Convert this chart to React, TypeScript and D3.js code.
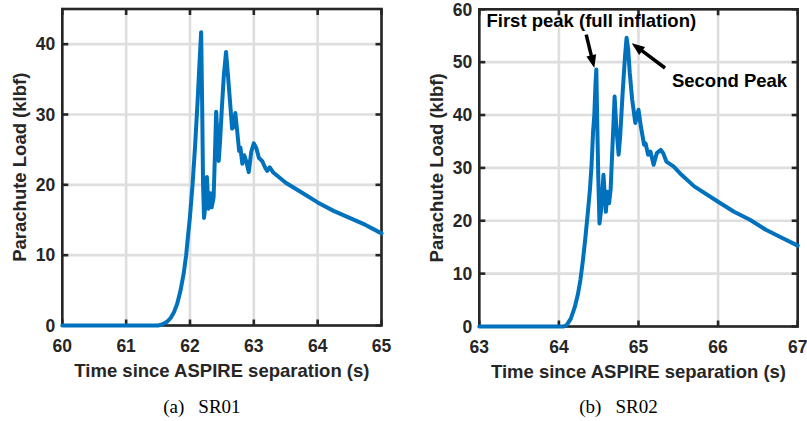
import React from "react";
import * as d3 from "d3";

// ---------- data ----------
const sr01Time = [60.0, 61.0, 61.5, 61.55, 61.6, 61.65, 61.7, 61.75, 61.8, 61.85, 61.9, 61.94, 61.97, 62.0, 62.04, 62.08, 62.12, 62.15, 62.175, 62.19, 62.205, 62.22, 62.24, 62.265, 62.29, 62.32, 62.34, 62.37, 62.39, 62.41, 62.43, 62.45, 62.47, 62.5, 62.53, 62.565, 62.6, 62.63, 62.66, 62.69, 62.71, 62.74, 62.77, 62.79, 62.82, 62.85, 62.88, 62.92, 62.96, 63.0, 63.04, 63.08, 63.13, 63.18, 63.21, 63.25, 63.3, 63.5, 63.75, 64.0, 64.25, 64.5, 64.75, 65.0];
const sr01Load = [0, 0, 0, 0.1, 0.3, 0.6, 1.1, 1.9, 3.1, 4.9, 7.3, 10, 12.8, 15.5, 20, 25.5, 32, 37.5, 41.7, 32, 20, 15.3, 17, 21.1, 16.6, 18.8, 16.8, 18.2, 24, 30.4, 27, 23.4, 26, 31, 35.5, 38.9, 35, 31.5, 28, 28.3, 30.2, 27.6, 24.8, 25.3, 23, 24.2, 23.4, 21.8, 24.7, 25.9, 25.2, 23.8, 23.4, 22.4, 22, 22.5, 21.8, 20.3, 18.9, 17.5, 16.3, 15.3, 14.3, 13.1];

const sr02Time = [63.0, 64.0, 64.06, 64.1, 64.15, 64.2, 64.24, 64.27, 64.3, 64.33, 64.36, 64.39, 64.41, 64.43, 64.445, 64.46, 64.47, 64.48, 64.495, 64.51, 64.53, 64.56, 64.59, 64.61, 64.63, 64.65, 64.67, 64.7, 64.72, 64.75, 64.77, 64.8, 64.83, 64.85, 64.87, 64.89, 64.92, 64.96, 65.0, 65.03, 65.07, 65.09, 65.12, 65.15, 65.19, 65.23, 65.28, 65.31, 65.35, 65.44, 65.52, 65.7, 66.0, 66.2, 66.4, 66.6, 66.8, 67.0];
const sr02Load = [0, 0, 0, 0.3, 1.5, 3.7, 6.2, 8.8, 12.3, 16.4, 21, 25.9, 30.5, 37, 40, 46, 48.6, 40, 28, 19.5, 22, 28.7, 21.7, 25.5, 23.3, 25.9, 33, 43.5, 38, 32.5, 36, 44, 51, 54.6, 52.5, 48, 43, 38.5, 41, 37.8, 34.4, 34.6, 32.5, 33.1, 30.6, 32.8, 33.4, 32.8, 31.2, 30.3, 29, 26.5, 23.6, 21.7, 20.2, 18.3, 16.8, 15.3];

const sr01XTicks = [60, 61, 62, 63, 64, 65];
const sr01YTicks = [0, 10, 20, 30, 40];
const sr02XTicks = [63, 64, 65, 66, 67];
const sr02YTicks = [0, 10, 20, 30, 40, 50, 60];

const xLabel = "Time since ASPIRE separation (s)";
const yLabel = "Parachute Load (klbf)";

// annotations for SR02 (data coordinates)
const annotationTexts = ["First peak (full inflation)", "Second Peak"];
const annotationTextPos = [[63.09, 56.7], [65.42, 45.3]];
const arrowTails = [[64.343, 55.2], [65.333, 48.9]];
const arrowTips = [[64.445, 48.9], [64.915, 53.6]];

// ---------- styles ----------
const SANS = "'Liberation Sans', Arial, Helvetica, sans-serif";
const SERIF = "'Liberation Serif', 'Times New Roman', Times, serif";
const TXT = "#262626";
const GRID = "#dedede";
const BLUE = "#0072BD";

type PanelProps = {
  left: number; right: number; top: number; bottom: number;
  xDomain: [number, number]; yDomain: [number, number];
  xTicks: number[]; yTicks: number[];
  t: number[]; v: number[];
  capLabel: string; capName: string;
  annotate?: boolean;
};

function Panel(p: PanelProps) {
  const x = d3.scaleLinear().domain(p.xDomain).range([p.left, p.right]);
  const y = d3.scaleLinear().domain(p.yDomain).range([p.bottom, p.top]);
  const pts: [number, number][] = p.t.map((tt, i) => [tt, p.v[i]]);
  const line = d3.line<[number, number]>().x(d => x(d[0])).y(d => y(d[1]));
  const tl = 6;
  const cx = (p.left + p.right) / 2;
  const cy = (p.top + p.bottom) / 2;
  return (
    <g>
      {p.xTicks.map(t => (
        <line key={"gx" + t} x1={x(t)} x2={x(t)} y1={p.top} y2={p.bottom} stroke={GRID} strokeWidth={2.6} />
      ))}
      {p.yTicks.map(t => (
        <line key={"gy" + t} x1={p.left} x2={p.right} y1={y(t)} y2={y(t)} stroke={GRID} strokeWidth={2.6} />
      ))}
      <rect x={p.left} y={p.top} width={p.right - p.left} height={p.bottom - p.top} fill="none" stroke={TXT} strokeWidth={2.6} />
      {p.xTicks.map(t => (
        <g key={"tx" + t}>
          <line x1={x(t)} x2={x(t)} y1={p.bottom} y2={p.bottom - tl} stroke={TXT} strokeWidth={2.6} />
          <line x1={x(t)} x2={x(t)} y1={p.top} y2={p.top + tl} stroke={TXT} strokeWidth={2.6} />
        </g>
      ))}
      {p.yTicks.map(t => (
        <g key={"ty" + t}>
          <line x1={p.left} x2={p.left + tl} y1={y(t)} y2={y(t)} stroke={TXT} strokeWidth={2.6} />
          <line x1={p.right} x2={p.right - tl} y1={y(t)} y2={y(t)} stroke={TXT} strokeWidth={2.6} />
        </g>
      ))}
      <path d={line(pts) || ""} fill="none" stroke={BLUE} strokeWidth={4} strokeLinejoin="round" strokeLinecap="round" />
      {p.xTicks.map(t => (
        <text key={"lx" + t} x={x(t)} y={p.bottom + 26.5} textAnchor="middle" fontFamily={SANS} fontWeight="bold" fontSize={17.5} fill={TXT}>{t}</text>
      ))}
      {p.yTicks.map(t => (
        <text key={"ly" + t} x={p.left - 7} y={y(t)} dy="0.36em" textAnchor="end" fontFamily={SANS} fontWeight="bold" fontSize={17.5} fill={TXT}>{t}</text>
      ))}
      <text x={cx} y={p.bottom + 51.5} textAnchor="middle" fontFamily={SANS} fontWeight="bold" fontSize={18.5} fill={TXT}>{xLabel}</text>
      <text transform={`translate(${p.left - 36.5},${cy}) rotate(-90)`} textAnchor="middle" fontFamily={SANS} fontWeight="bold" fontSize={18.5} fill={TXT}>{yLabel}</text>
      <text x={cx - 20} y={413} textAnchor="middle" fontFamily={SERIF} fontSize={19} fill="#000">
        <tspan>{p.capLabel}</tspan>
        <tspan dx={14}>{p.capName}</tspan>
      </text>
      {p.annotate && (
        <g>
          {annotationTexts.map((s, i) => (
            <text key={"at" + i} x={x(annotationTextPos[i][0])} y={y(annotationTextPos[i][1])} fontFamily={SANS} fontWeight="bold" fontSize={18.5} fill="#000">{s}</text>
          ))}
          {arrowTails.map((tail, i) => {
            const x1 = x(tail[0]), y1 = y(tail[1]);
            const x2 = x(arrowTips[i][0]), y2 = y(arrowTips[i][1]);
            const ang = Math.atan2(y2 - y1, x2 - x1);
            const hl = 13, hw = 5;
            const bx = x2 - hl * Math.cos(ang), by = y2 - hl * Math.sin(ang);
            const px = -Math.sin(ang), py = Math.cos(ang);
            return (
              <g key={"ar" + i}>
                <line x1={x1} y1={y1} x2={bx + 2 * Math.cos(ang)} y2={by + 2 * Math.sin(ang)} stroke="#000" strokeWidth={3.5} />
                <polygon points={`${x2},${y2} ${bx + hw * px},${by + hw * py} ${bx - hw * px},${by - hw * py}`} fill="#000" />
              </g>
            );
          })}
        </g>
      )}
    </g>
  );
}

export default function App() {
  return (
    <svg width={807} height={421} style={{ position: "absolute", left: 0, top: 0, background: "#fff" }}>
      <rect width={807} height={421} fill="#fff" />
      <Panel left={62.3} right={381.5} top={9} bottom={325.5}
        xDomain={[60, 65]} yDomain={[0, 45]} xTicks={sr01XTicks} yTicks={sr01YTicks}
        t={sr01Time} v={sr01Load} capLabel="(a)" capName="SR01" />
      <Panel left={479.3} right={797.7} top={9.3} bottom={326.5}
        xDomain={[63, 67]} yDomain={[0, 60]} xTicks={sr02XTicks} yTicks={sr02YTicks}
        t={sr02Time} v={sr02Load} capLabel="(b)" capName="SR02" annotate />
    </svg>
  );
}
